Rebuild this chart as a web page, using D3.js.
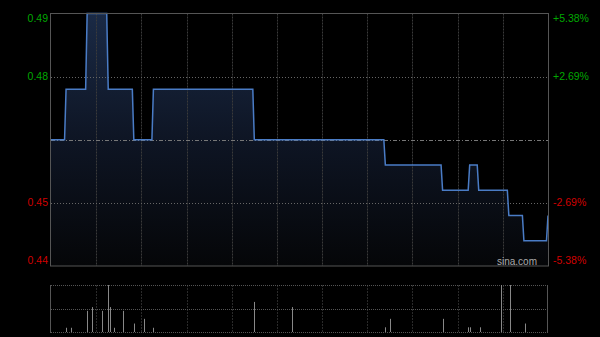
<!DOCTYPE html>
<html>
<head>
<meta charset="utf-8">
<script src="https://cdn.jsdelivr.net/npm/d3@7"></script>
<style>
  body { margin: 0; background: #000; }
  svg { display: block; font-family: "Liberation Sans", Arial, sans-serif; }
</style>
</head>
<body>
<svg id="chart" width="600" height="337"></svg>
<script>
var prevClose = 0.465;

// price levels: minute where each level starts, and its price
var stepMinutes = [0, 10, 24, 38, 55, 68, 135, 222, 260, 278, 284, 304, 314, 330];
var stepPrices = [0.465, 0.475, 0.49, 0.475, 0.465, 0.475, 0.465, 0.46, 0.455, 0.46, 0.455, 0.45, 0.445, 0.45];

// volume bars (minute, relative volume)
var volMinutes = [10, 13, 24, 27, 34, 38, 39, 42, 48, 55, 62, 68, 135, 160, 222, 225, 260, 277, 278, 285, 299, 305, 315];
var volValues = [9, 9, 45, 53, 45, 100, 53, 9, 45, 18, 28, 9, 64, 53, 10, 28, 28, 10, 10, 10, 100, 100, 18];

var leftLabels = ['0.49', '0.48', '0.45', '0.44'];
var rightLabels = ['+5.38%', '+2.69%', '-2.69%', '-5.38%'];
var labelPrices = [0.49, 0.4775, 0.4525, 0.44];

var svg = d3.select('#chart');
var pLeft = 51, pRight = 548, pTop = 13.5, pBottom = 266;
var vTop = 285, vBottom = 332;

var x = d3.scaleLinear().domain([0, 330]).range([pLeft, pRight]);
var y = d3.scaleLinear().domain([0.44, 0.49]).range([pBottom, pTop]);
var yv = d3.scaleLinear().domain([0, 100]).range([vBottom, vTop]);

// build line points: each level from its start to one minute before the next
var pts = [];
stepMinutes.forEach(function(m, i) {
  pts.push([m, stepPrices[i]]);
  if (i < stepMinutes.length - 1) pts.push([stepMinutes[i + 1] - 1, stepPrices[i]]);
});

var defs = svg.append('defs');
var grad = defs.append('linearGradient')
  .attr('id', 'fill')
  .attr('gradientUnits', 'userSpaceOnUse')
  .attr('x1', 0).attr('x2', 0)
  .attr('y1', pTop).attr('y2', pBottom);
grad.append('stop').attr('offset', 0).attr('stop-color', '#1a2a46');
grad.append('stop').attr('offset', 0.5).attr('stop-color', '#0e1524');
grad.append('stop').attr('offset', 1).attr('stop-color', '#050608');

var area = d3.area()
  .x(function(d) { return x(d[0]); })
  .y0(pBottom)
  .y1(function(d) { return y(d[1]); });

svg.append('path')
  .datum(pts)
  .attr('d', area)
  .attr('fill', 'url(#fill)');

// vertical grid every 30 minutes
var vgrid = d3.range(30, 330, 30);
svg.selectAll('line.vg')
  .data(vgrid)
  .join('line')
  .attr('x1', function(d) { return Math.round(x(d)) + 0.5; })
  .attr('x2', function(d) { return Math.round(x(d)) + 0.5; })
  .attr('y1', pTop).attr('y2', pBottom)
  .attr('stroke', '#3a3a3a')
  .attr('stroke-dasharray', '2,1');

svg.selectAll('line.vgv')
  .data(vgrid)
  .join('line')
  .attr('x1', function(d) { return Math.round(x(d)) + 0.5; })
  .attr('x2', function(d) { return Math.round(x(d)) + 0.5; })
  .attr('y1', vTop).attr('y2', vBottom)
  .attr('stroke', '#2a2a2a')
  .attr('stroke-dasharray', '2,1');

// horizontal grid
svg.selectAll('line.hg')
  .data([0.4775, 0.4525])
  .join('line')
  .attr('x1', pLeft).attr('x2', pRight)
  .attr('y1', function(d) { return Math.round(y(d)) + 0.5; })
  .attr('y2', function(d) { return Math.round(y(d)) + 0.5; })
  .attr('stroke', '#666')
  .attr('stroke-dasharray', '1,2');

svg.append('line')
  .attr('x1', pLeft).attr('x2', pRight)
  .attr('y1', Math.round(y(prevClose)) + 0.5)
  .attr('y2', Math.round(y(prevClose)) + 0.5)
  .attr('stroke', '#777')
  .attr('stroke-dasharray', '4,2,1,2');

// price line
var line = d3.line()
  .x(function(d) { return x(d[0]); })
  .y(function(d) { return y(d[1]); });

svg.append('path')
  .datum(pts)
  .attr('d', line)
  .attr('fill', 'none')
  .attr('stroke', '#4a7cc6')
  .attr('stroke-width', 1.5);

// border
svg.append('rect')
  .attr('x', pLeft - 0.5).attr('y', pTop)
  .attr('width', pRight - pLeft + 1).attr('height', pBottom - pTop)
  .attr('fill', 'none')
  .attr('stroke', '#555');

// axis labels
function labelY(d, i) {
  if (i === 0) return y(labelPrices[i]) + 8.5;
  if (i === 3) return y(labelPrices[i]) - 2.5;
  return y(labelPrices[i]) + 3.5;
}

svg.selectAll('text.ll')
  .data(leftLabels)
  .join('text')
  .attr('x', 48)
  .attr('y', labelY)
  .attr('text-anchor', 'end')
  .attr('font-size', 10.5)
  .attr('fill', function(d, i) { return i < 2 ? '#00a800' : '#d00000'; })
  .text(function(d) { return d; });

svg.selectAll('text.rl')
  .data(rightLabels)
  .join('text')
  .attr('x', 553)
  .attr('y', labelY)
  .attr('text-anchor', 'start')
  .attr('font-size', 10.5)
  .attr('fill', function(d, i) { return i < 2 ? '#00a800' : '#d00000'; })
  .text(function(d) { return d; });

svg.append('text')
  .attr('x', 537).attr('y', 265)
  .attr('text-anchor', 'end')
  .attr('font-size', 10)
  .attr('fill', '#aaa')
  .text('sina.com');

// volume panel
svg.selectAll('line.vh')
  .data([vTop, (vTop + vBottom) / 2, vBottom])
  .join('line')
  .attr('x1', pLeft).attr('x2', pRight)
  .attr('y1', function(d) { return Math.round(d) + 0.5; })
  .attr('y2', function(d) { return Math.round(d) + 0.5; })
  .attr('stroke', '#555')
  .attr('stroke-dasharray', '1,1');

svg.selectAll('line.vb')
  .data([pLeft, pRight])
  .join('line')
  .attr('x1', function(d) { return d - 0.5; })
  .attr('x2', function(d) { return d - 0.5; })
  .attr('y1', vTop).attr('y2', vBottom + 1)
  .attr('stroke', '#555');

svg.selectAll('line.vol')
  .data(volMinutes)
  .join('line')
  .attr('x1', function(d) { return Math.round(x(d)) + 0.5; })
  .attr('x2', function(d) { return Math.round(x(d)) + 0.5; })
  .attr('y1', vBottom)
  .attr('y2', function(d, i) { return yv(volValues[i]); })
  .attr('stroke', '#888');
</script>
</body>
</html>
